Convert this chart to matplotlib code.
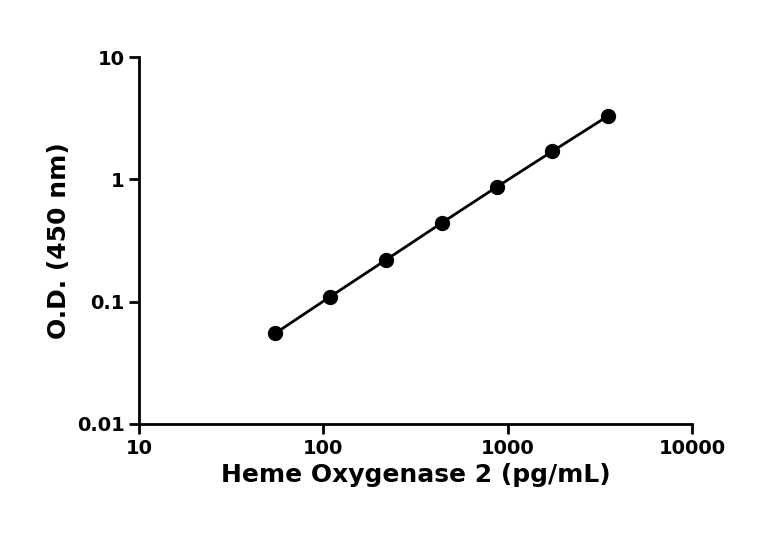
import matplotlib
matplotlib.use("Agg")
import matplotlib.pyplot as plt
from matplotlib.ticker import FixedLocator, NullLocator

conc = [54.7, 109, 219, 438, 875, 1750, 3500]
od = [0.055, 0.11, 0.22, 0.44, 0.87, 1.7, 3.3]
xticks = [10, 100, 1000, 10000]
yticks = [0.01, 0.1, 1, 10]

fig = plt.figure(figsize=(7.68, 5.34), dpi=100)
ax = fig.add_axes([0.181, 0.206, 0.72, 0.687])
ax.plot(conc, od, color='black', lw=2, marker='o', ms=10)
ax.set_xscale('log')
ax.set_yscale('log')
ax.set_xlim(10, 10000)
ax.set_ylim(0.01, 10)
ax.xaxis.set_major_locator(FixedLocator(xticks))
ax.yaxis.set_major_locator(FixedLocator(yticks))
ax.xaxis.set_minor_locator(NullLocator())
ax.yaxis.set_minor_locator(NullLocator())
ax.set_xticklabels([str(v) for v in xticks])
ax.set_yticklabels([str(v) for v in yticks])
for s in ['top', 'right']:
    ax.spines[s].set_visible(False)
for s in ['left', 'bottom']:
    ax.spines[s].set_linewidth(2)
ax.tick_params(width=2, length=7, labelsize=14)
for lab in ax.get_xticklabels() + ax.get_yticklabels():
    lab.set_fontweight('bold')
ax.set_xlabel('Heme Oxygenase 2 (pg/mL)', fontsize=18, fontweight='bold')
ax.set_ylabel('O.D. (450 nm)', fontsize=18, fontweight='bold')
fig.savefig('out.png', dpi=100)
